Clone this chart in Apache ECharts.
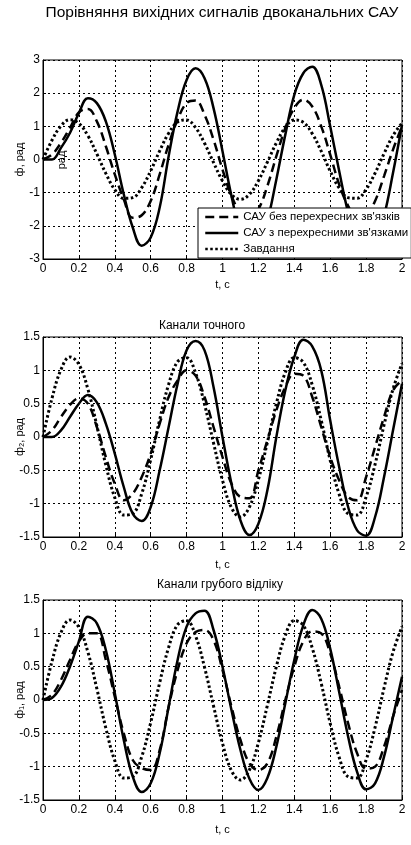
<!DOCTYPE html>
<html><head><meta charset="utf-8">
<script src="https://cdn.jsdelivr.net/npm/echarts@6/dist/echarts.min.js"></script>
<style>html,body{margin:0;padding:0;background:#fff}#c{width:411px;height:845px}</style>
</head><body><div id="c"></div>
<script>
const T = [0,0.05,0.1,0.15,0.2,0.25,0.3,0.35,0.4,0.45,0.5,0.55,0.6,0.65,0.7,0.75,0.8,0.85,0.9,0.95,1,1.05,1.1,1.15,1.2,1.25,1.3,1.35,1.4,1.45,1.5,1.55,1.6,1.65,1.7,1.75,1.8,1.85,1.9,1.95,2];
const setpoint = [0,0.58,1.01,1.2,1.09,0.72,0.17,-0.42,-0.91,-1.17,-1.15,-0.85,-0.34,0.26,0.79,1.13,1.19,0.96,0.49,-0.09,-0.65,-1.06,-1.2,-1.05,-0.64,-0.08,0.5,0.97,1.19,1.12,0.78,0.25,-0.35,-0.86,-1.15,-1.17,-0.9,-0.41,0.18,0.72,1.1];
const noCross1 = [0,0.15,0.5,0.95,1.42,1.52,1.15,0.4,-0.45,-1.2,-1.76,-1.68,-1.25,-0.45,0.45,1.2,1.7,1.78,1.35,0.6,-0.3,-1.1,-1.6,-1.8,-1.5,-0.8,0.1,0.95,1.55,1.8,1.6,1.0,0.15,-0.75,-1.4,-1.78,-1.7,-1.25,-0.5,0.3,1.0];
const cross1 = [0,0,0.35,0.8,1.4,1.85,1.7,1.15,0.15,-1.05,-2.05,-2.6,-2.35,-1.45,0.1,1.45,2.4,2.75,2.45,1.55,0.25,-1.1,-2.2,-2.72,-2.6,-1.85,-0.6,0.75,1.95,2.6,2.8,2.25,1.0,-0.35,-1.6,-2.45,-2.75,-2.5,-1.7,-0.4,1.05];
const noCross2 = [0,0.1,0.3,0.48,0.58,0.5,0.15,-0.3,-0.7,-0.95,-0.85,-0.6,-0.25,0.2,0.6,0.85,1.0,0.92,0.6,0.15,-0.3,-0.7,-0.9,-0.92,-0.5,-0.05,0.4,0.75,0.95,0.92,0.6,0.15,-0.3,-0.65,-0.9,-0.95,-0.6,-0.15,0.3,0.7,0.85];
const cross2 = [0,0,0.1,0.3,0.5,0.63,0.52,0.2,-0.25,-0.75,-1.15,-1.26,-1.05,-0.5,0.15,0.8,1.3,1.44,1.3,0.75,0.0,-0.7,-1.25,-1.47,-1.3,-0.8,0.0,0.7,1.2,1.46,1.36,1.0,0.25,-0.45,-1.05,-1.4,-1.48,-1.2,-0.6,0.1,0.8];
const noCross3 = [0,0.08,0.3,0.6,0.88,1.0,1.0,0.6,0.05,-0.5,-0.9,-1.02,-1.05,-0.75,-0.1,0.45,0.85,1.02,1.05,0.9,0.45,-0.1,-0.6,-0.95,-1.05,-0.95,-0.55,0.0,0.5,0.88,1.03,1.0,0.7,0.2,-0.35,-0.8,-1.03,-1.0,-0.7,-0.25,0.15];
const cross3 = [0,0.03,0.2,0.5,0.88,1.25,1.15,0.75,0.1,-0.6,-1.15,-1.38,-1.25,-0.8,-0.1,0.6,1.1,1.3,1.34,1.05,0.5,-0.15,-0.75,-1.18,-1.35,-1.17,-0.7,-0.05,0.6,1.12,1.35,1.22,0.77,0.12,-0.55,-1.08,-1.34,-1.25,-0.85,-0.25,0.35];
const legendNames = ["САУ без перехресних зв'язків", "САУ з перехресними зв'язками", "Завдання"];
const mainTitle = "Порівняння вихідних сигналів двоканальних САУ";
const subTitles = ["Канали точного", "Канали грубого відліку"];
const yNames = ["ф, рад", "ф₂, рад", "ф₁, рад"];
const xName = "t, c";

const FONT = '"Liberation Sans", Arial, sans-serif';
const pair = arr => T.map((t, i) => [t, arr[i]]);
const gridDefs = [
  {left: 43, width: 359, top: 60, height: 199},
  {left: 43, width: 359, top: 337, height: 200},
  {left: 43, width: 359, top: 600, height: 200}
];
const yRanges = [[-3, 3, 1], [-1.5, 1.5, 0.5], [-1.5, 1.5, 0.5]];
const xGaps = [20, 22, 24];
const grids = gridDefs.map(g => Object.assign({show: true, borderColor: '#000', borderWidth: 1, containLabel: false}, g));
const splitStyle = {show: true, lineStyle: {color: '#000', width: 1, type: [2, 3]}};
const xAxes = gridDefs.map((g, i) => ({
  type: 'value', gridIndex: i, min: 0, max: 2, interval: 0.2,
  name: xName, nameLocation: 'middle', nameGap: xGaps[i],
  nameTextStyle: {color: '#000', fontSize: 11, fontFamily: FONT},
  axisLine: {show: true, onZero: false, lineStyle: {color: '#000', width: 1}},
  axisTick: {show: true, inside: true, length: 3, lineStyle: {color: '#000'}},
  axisLabel: {color: '#000', fontSize: 12, fontFamily: FONT, margin: 4},
  splitLine: splitStyle
}));
const yAxes = gridDefs.map((g, i) => ({
  type: 'value', gridIndex: i, min: yRanges[i][0], max: yRanges[i][1], interval: yRanges[i][2],
  name: yNames[i], nameLocation: 'middle', nameGap: 18, nameRotate: 90, nameMoveOverlap: false,
  nameTextStyle: {color: '#000', fontSize: 11, fontFamily: FONT},
  axisLine: {show: true, onZero: false, lineStyle: {color: '#000', width: 1}},
  axisTick: {show: true, inside: true, length: 3, lineStyle: {color: '#000'}},
  axisLabel: {color: '#000', fontSize: 12, fontFamily: FONT, margin: 3},
  splitLine: splitStyle
}));
const dashStyle = {color: '#000', width: 2.5, type: [9, 5]};
const solidStyle = {color: '#000', width: 2.5, type: 'solid'};
const dotStyle = {color: '#000', width: 3, type: [2.5, 2.5]};
const sets = [[noCross1, cross1], [noCross2, cross2], [noCross3, cross3]];
const series = [];
sets.forEach((s, i) => {
  const suffix = i === 0 ? '' : ' ' + i;
  const base = {type: 'line', xAxisIndex: i, yAxisIndex: i, smooth: 0.4, symbol: 'none', showSymbol: false, itemStyle: {color: '#000'}, z: 3};
  series.push(Object.assign({name: legendNames[0] + suffix, data: pair(s[0]), lineStyle: dashStyle}, base));
  series.push(Object.assign({name: legendNames[1] + suffix, data: pair(s[1]), lineStyle: solidStyle}, base));
  series.push(Object.assign({name: legendNames[2] + suffix, data: pair(setpoint), lineStyle: dotStyle}, base));
});

const chart = echarts.init(document.getElementById('c'), null, {renderer: 'canvas'});
chart.setOption({
  animation: false,
  backgroundColor: '#fff',
  grid: grids,
  xAxis: xAxes,
  yAxis: yAxes,
  legend: {
    data: legendNames.map(n => ({name: n, itemStyle: {opacity: 0}})),
    orient: 'vertical', left: 198, top: 208,
    backgroundColor: '#fff', borderColor: '#000', borderWidth: 1, borderRadius: 0,
    padding: [3, 3, 3, 6], itemGap: 4, itemWidth: 33, itemHeight: 12,
    itemStyle: {opacity: 0},
    lineStyle: {width: 2.5},
    textStyle: {color: '#000', fontSize: 11.5, fontFamily: FONT},
    selectedMode: false
  },
  series: series,
  graphic: [
    {type: 'text', x: 222, y: 13, style: {text: mainTitle, fill: '#000', font: '15.5px ' + FONT, align: 'center', verticalAlign: 'middle'}},
    {type: 'text', x: 202, y: 326, style: {text: subTitles[0], fill: '#000', font: '12px ' + FONT, align: 'center', verticalAlign: 'middle'}},
    {type: 'text', x: 220, y: 585, style: {text: subTitles[1], fill: '#000', font: '12px ' + FONT, align: 'center', verticalAlign: 'middle'}},
    {type: 'text', x: 62, y: 160, rotation: Math.PI / 2, style: {text: 'рад', fill: '#000', font: '11px ' + FONT, align: 'center', verticalAlign: 'middle'}}
  ]
});
</script></body></html>
